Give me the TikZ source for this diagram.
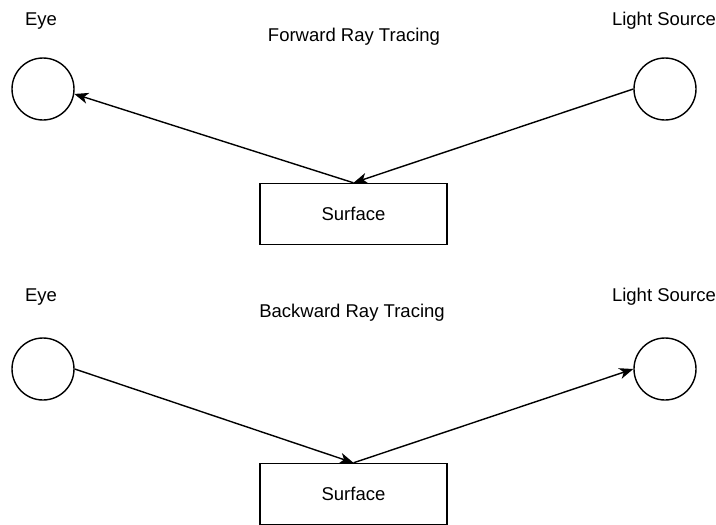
\documentclass[tikz,border=0pt]{standalone}
\usepackage{fontspec}
\setmainfont{Liberation Sans}
\usetikzlibrary{arrows.meta}
\begin{document}
\begin{tikzpicture}[x=1pt,y=-1pt,
  ball/.style={draw,circle,line width=1.4pt,minimum size=62pt,inner sep=0pt},
  surfbox/.style={draw,rectangle,line width=1.4pt,minimum width=187pt,minimum height=61pt,inner sep=0pt,font=\fontsize{18.5}{22}\selectfont},
  lbl/.style={font=\fontsize{18.5}{22}\selectfont,inner sep=0pt},
  ray/.style={line width=1.4pt,-{Stealth[length=14pt,width=11pt,inset=4pt]}}]
\useasboundingbox (0,0) rectangle (716,525);
% top
\node[ball] (eye1) at (43,89) {};
\node[ball] (light1) at (665,89) {};
\node[surfbox] (surf1) at (353.5,214) {Surface};
\node[lbl] (eyelbl1) at (41,21) {Eye};
\node[lbl] (lightlbl1) at (664,21) {Light Source};
\node[lbl] (title1) at (354,37) {Forward Ray Tracing};
\draw[ray] (light1.west) -- (surf1.north);
\draw[ray] (surf1.north) -- (eye1.-9);
% bottom
\node[ball] (eye2) at (43,369) {};
\node[ball] (light2) at (665,369) {};
\node[surfbox] (surf2) at (353.5,494) {Surface};
\node[lbl] (eyelbl2) at (41,297) {Eye};
\node[lbl] (lightlbl2) at (664,297) {Light Source};
\node[lbl] (title2) at (352,313) {Backward Ray Tracing};
\draw[ray] (eye2.east) -- (surf2.north);
\draw[ray] (surf2.north) -- (light2.west);
\end{tikzpicture}
\end{document}
